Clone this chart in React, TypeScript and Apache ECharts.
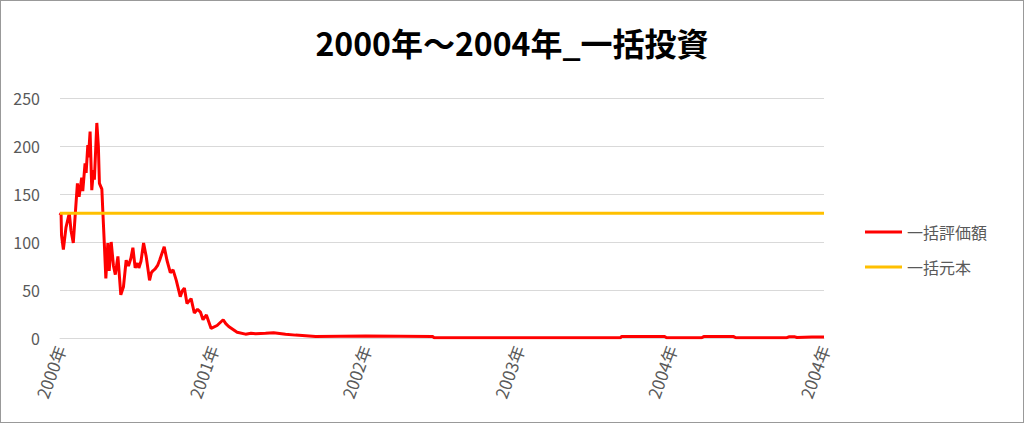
import React, { useEffect, useRef } from "react";
import * as echarts from "echarts";

const titleText = "2000年～2004年_一括投資";
const seriesNames = ["一括評価額", "一括元本"];
const xTickLabels = ["2000年", "2001年", "2002年", "2003年", "2004年", "2004年"];

// time in years since 2000-01-01
const times = [
  0.0, 0.007, 0.01, 0.022, 0.039, 0.061, 0.072, 0.087, 0.103, 0.114, 0.125, 0.142, 0.149,
  0.164, 0.171, 0.182, 0.186, 0.197, 0.208, 0.219, 0.225, 0.241, 0.251, 0.258, 0.274,
  0.28, 0.291, 0.3, 0.313, 0.322, 0.335, 0.35, 0.362, 0.379, 0.398, 0.415, 0.433, 0.448, 0.464,
  0.477, 0.492, 0.507, 0.516, 0.53, 0.547, 0.564, 0.586, 0.598, 0.608, 0.623, 0.64, 0.652, 0.682, 0.7,
  0.722, 0.74, 0.761, 0.787, 0.8, 0.814, 0.831, 0.858, 0.879, 0.9, 0.919, 0.936, 0.958, 0.989,
  1.028, 1.068, 1.085, 1.104, 1.159, 1.214, 1.25, 1.28, 1.345, 1.398, 1.476, 1.542, 1.673, 1.837,
  2.001, 2.231, 2.44, 2.448, 2.8, 3.2, 3.668, 3.675, 3.957, 3.97, 4.199, 4.213, 4.409,
  4.423, 4.757, 4.77, 4.81, 4.823, 4.921, 5.0,
];
const valuation = [
  128, 130, 107, 92, 115, 130, 112, 99, 136, 161, 147, 167, 153,
  182, 172, 201, 188, 215, 154, 175, 165, 224, 200, 161, 155,
  133, 95, 62, 99, 70, 100, 75, 66, 85, 45, 53, 81, 75, 83,
  94, 73, 78, 73, 80, 99, 85, 60, 68, 70, 72, 76, 81, 95, 81,
  68, 71, 60, 43, 49, 52, 36, 41, 26, 30, 27, 19, 24, 10,
  13, 19, 15, 12, 6, 4, 5, 4.5, 5, 5.5, 4, 3, 1.5, 1.8,
  2, 1.8, 1.6, 0.3, 0.3, 0.3, 0.3, 1.5, 1.5, 0.3, 0.3, 1.5, 1.5,
  0.3, 0.3, 1.2, 1.2, 0.5, 1, 1,
];
const principal = 130;

export default function App() {
  const ref = useRef<HTMLDivElement>(null);
  useEffect(() => {
    if (!ref.current) return;
    const chart = echarts.init(ref.current, undefined, { renderer: "svg" });
    const font = "'Noto Sans CJK JP', 'Noto Sans', sans-serif";
    chart.setOption({
      animation: false,
      textStyle: { fontFamily: font },
      title: {
        text: titleText,
        left: "center",
        top: 21,
        textStyle: { fontFamily: font, fontSize: 32, fontWeight: "bold", color: "#000" },
      },
      legend: {
        orient: "vertical",
        left: 860,
        top: 219,
        icon: "rect",
        itemWidth: 37,
        itemHeight: 3,
        itemGap: 19,
        textStyle: { fontFamily: font, fontSize: 16, color: "#595959", lineHeight: 16 },
        data: seriesNames,
      },
      grid: { left: 60, right: 200, top: 98, bottom: 85, containLabel: false },
      xAxis: {
        type: "value",
        min: 0,
        max: 5,
        interval: 1,
        axisLine: { show: true, lineStyle: { color: "#d9d9d9", width: 1 } },
        axisTick: { show: false },
        splitLine: { show: false },
        axisLabel: {
          rotate: 70,
          margin: 8,
          fontSize: 17,
          color: "#595959",
          fontFamily: font,
          showMaxLabel: true,
          formatter: (v: number) => xTickLabels[Math.round(v)] ?? "",
        },
      },
      yAxis: {
        type: "value",
        min: 0,
        max: 250,
        interval: 50,
        axisLine: { show: false },
        axisTick: { show: false },
        splitLine: { lineStyle: { color: "#d9d9d9", width: 1 } },
        axisLabel: { fontSize: 16, color: "#595959", margin: 20, fontFamily: font },
      },
      series: [
        {
          name: seriesNames[0],
          type: "line",
          data: times.map((t, i) => [t, valuation[i]]),
          symbol: "none",
          lineStyle: { color: "#ff0000", width: 3 },
          itemStyle: { color: "#ff0000" },
          z: 3,
        },
        {
          name: seriesNames[1],
          type: "line",
          data: [
            [0, principal],
            [5, principal],
          ],
          symbol: "none",
          lineStyle: { color: "#ffc000", width: 3 },
          itemStyle: { color: "#ffc000" },
          z: 4,
        },
      ],
    });
    return () => chart.dispose();
  }, []);
  return (
    <div style={{ position: "absolute", left: 0, top: 0, width: 1024, height: 423, background: "#fff" }}>
      <div ref={ref} style={{ width: 1024, height: 423 }} />
      <div
        style={{
          position: "absolute",
          left: 0,
          top: 0,
          width: 1024,
          height: 423,
          boxSizing: "border-box",
          border: "1px solid #999",
          pointerEvents: "none",
        }}
      />
    </div>
  );
}
